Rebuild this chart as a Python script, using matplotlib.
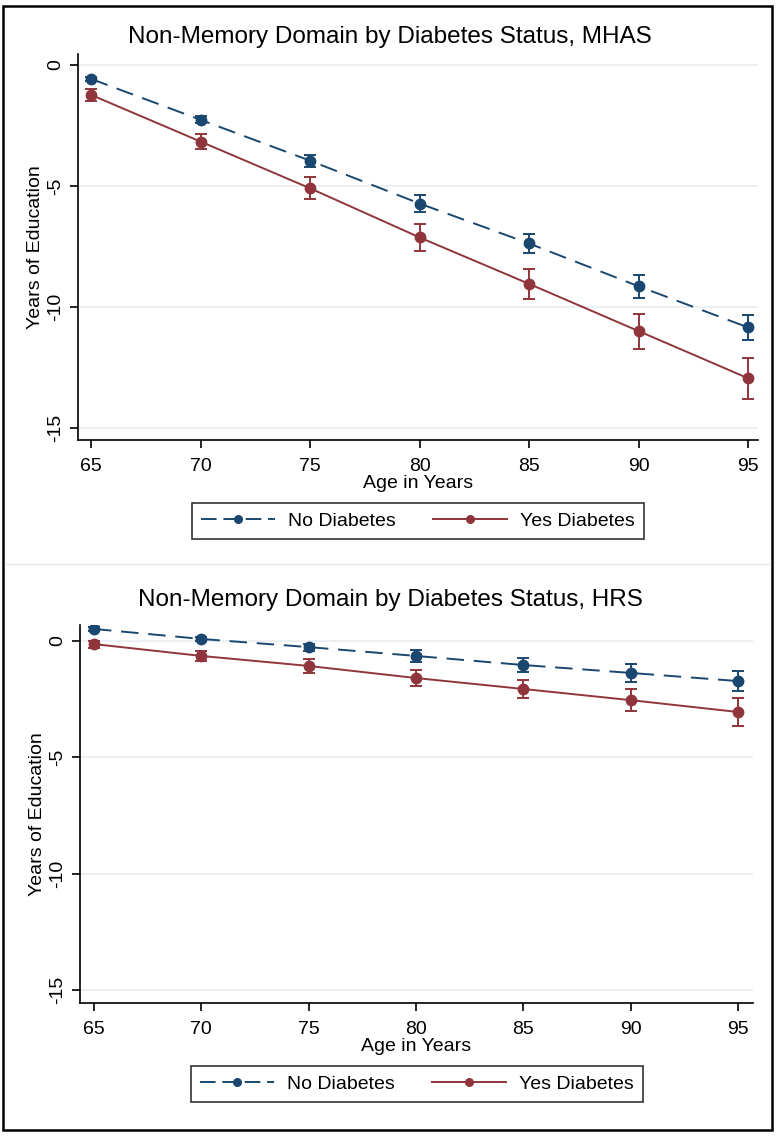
import numpy as np
import matplotlib
matplotlib.use("Agg")
import matplotlib.pyplot as plt
from matplotlib.patches import Rectangle
from matplotlib.lines import Line2D

plt.rcParams["font.family"] = ["Liberation Sans", "DejaVu Sans"]

ages = [65, 70, 75, 80, 85, 90, 95]

# MHAS panel
mhas_no = [-0.58, -2.27, -3.96, -5.73, -7.38, -9.15, -10.85]
mhas_no_err = [0.10, 0.15, 0.25, 0.35, 0.40, 0.47, 0.50]
mhas_yes = [-1.24, -3.17, -5.10, -7.13, -9.05, -11.0, -12.95]
mhas_yes_err = [0.25, 0.30, 0.45, 0.55, 0.62, 0.72, 0.85]

# HRS panel
hrs_no = [0.52, 0.09, -0.26, -0.64, -1.03, -1.37, -1.72]
hrs_no_err = [0.07, 0.10, 0.15, 0.25, 0.30, 0.37, 0.42]
hrs_yes = [-0.13, -0.64, -1.07, -1.59, -2.06, -2.54, -3.05]
hrs_yes_err = [0.15, 0.20, 0.30, 0.35, 0.40, 0.47, 0.60]

yticks = [0, -5, -10, -15]
xticks = [65, 70, 75, 80, 85, 90, 95]

NAVY = "#1a476f"
MAROON = "#90353b"
GRID = "#e6edf1"
FS = 14

W, H = 780, 1136
fig = plt.figure(figsize=(W / 100, H / 100), dpi=100)


def px_axes(left, top, right, bottom):
    return fig.add_axes([left / W, 1 - bottom / H, (right - left) / W, (bottom - top) / H])


def draw_panel(ax, title, no, no_err, yes, yes_err, xlim, ylim, title_y, leg_xy):
    ax.errorbar(ages, no, yerr=no_err, color=NAVY, marker="o", markersize=7.5,
                linestyle=(0, (9, 5)), linewidth=1.4, capsize=4, elinewidth=1.4,
                capthick=1.4, zorder=3)
    ax.errorbar(ages, yes, yerr=yes_err, color=MAROON, marker="o", markersize=7.5,
                linestyle="-", linewidth=1.4, capsize=4, elinewidth=1.4,
                capthick=1.4, zorder=3)
    ax.set_xlim(*xlim)
    ax.set_ylim(*ylim)
    ax.set_xticks(xticks)
    ax.set_yticks(yticks)
    ax.set_yticklabels([str(t) for t in yticks], rotation=90, va="center")
    ax.tick_params(labelsize=FS, length=6, width=1.2, direction="out", pad=4)
    ax.tick_params(axis="x", pad=7)
    ax.grid(axis="y", color=GRID, linewidth=1.2, zorder=0)
    ax.spines["top"].set_visible(False)
    ax.spines["right"].set_visible(False)
    ax.spines["left"].set_linewidth(1.2)
    ax.spines["bottom"].set_linewidth(1.2)
    ax.set_xlabel("Age in Years", fontsize=FS, labelpad=0)
    ax.set_ylabel("Years of Education", fontsize=FS, labelpad=2)
    fig.text(0.5, 1 - title_y / H, title, ha="center", va="center", fontsize=17.5)
    handles = [
        Line2D([], [], color=NAVY, marker="o", markersize=5.5, linestyle=(0, (8, 3.5)), linewidth=1.4),
        Line2D([], [], color=MAROON, marker="o", markersize=5.5, linestyle="-", linewidth=1.4),
    ]
    leg = fig.legend(handles, ["No Diabetes", "Yes Diabetes"], loc="center",
                     bbox_to_anchor=(leg_xy[0] / W, 1 - leg_xy[1] / H), ncol=2, fontsize=FS,
                     frameon=True, fancybox=False, edgecolor="black",
                     handlelength=3.8, handletextpad=0.7, columnspacing=1.9,
                     borderpad=0.45, borderaxespad=0)
    leg.get_frame().set_linewidth(1.2)


ax1 = px_axes(78, 54, 758, 440)
draw_panel(ax1, "Non-Memory Domain by Diabetes Status, MHAS",
           mhas_no, mhas_no_err, mhas_yes, mhas_yes_err,
           (64.4, 95.45), (-15.5, 0.45), 37, (418, 521))

ax2 = px_axes(80, 625, 753, 1003)
draw_panel(ax2, "Non-Memory Domain by Diabetes Status, HRS",
           hrs_no, hrs_no_err, hrs_yes, hrs_yes_err,
           (64.35, 95.7), (-15.56, 0.69), 600, (417, 1084))

# panel separator and outer border
fig.add_artist(Line2D([5 / W, 770 / W], [1 - 564 / H, 1 - 564 / H], color="#e3e8ec", linewidth=1))
fig.add_artist(Rectangle((3 / W, 1 - 1130 / H), 769 / W, 1124 / H, fill=False,
                         edgecolor="black", linewidth=1.8, transform=fig.transFigure))

fig.savefig("out.png", dpi=100)
